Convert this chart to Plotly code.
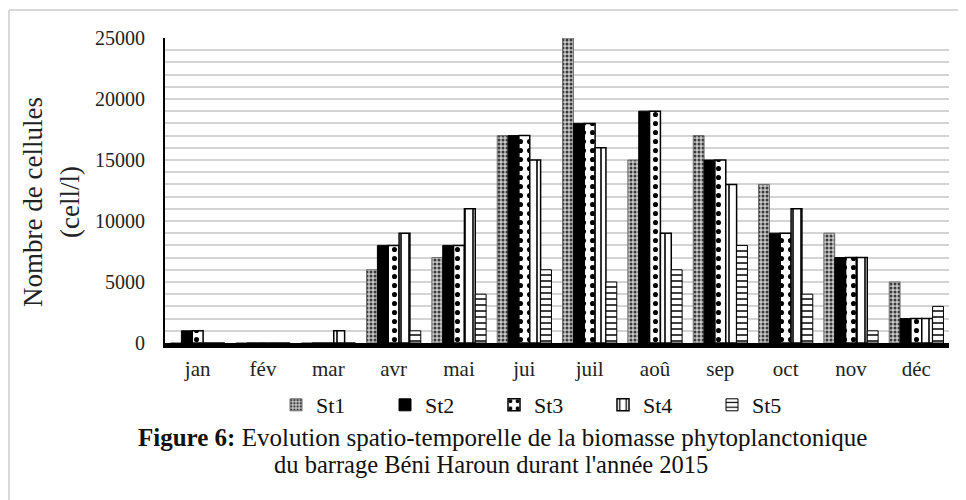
import plotly.graph_objects as go

months = ["jan", "fév", "mar", "avr", "mai", "jui", "juil", "aoû", "sep", "oct", "nov", "déc"]
st1 = [0, 0, 0, 6000, 7000, 17000, 25000, 15000, 17000, 13000, 9000, 5000]
st2 = [1000, 0, 0, 8000, 8000, 17000, 18000, 19000, 15000, 9000, 7000, 2000]
st3 = [1000, 0, 0, 8000, 8000, 17000, 18000, 19000, 15000, 9000, 7000, 2000]
st4 = [0, 0, 1000, 9000, 11000, 15000, 16000, 9000, 13000, 11000, 7000, 2000]
st5 = [0, 0, 0, 1000, 4000, 6000, 5000, 6000, 8000, 4000, 1000, 3000]

# page has an 8px body margin; work in page pixels and convert
OFF = 8
W, H = 966 - OFF, 500 - OFF
L, R, T, B = 165 - OFF, 949 - OFF, 38 - OFF, 343 - OFF


def px_x(px):
    return (px - OFF - L) / (R - L)


def px_y(py):
    return (B - (py - OFF)) / (B - T)


SERIF = "Liberation Serif, Times New Roman, serif"
GRID = "#d4d4d4"

fig = go.Figure()
fig.add_bar(name="St1", x=months, y=st1,
            marker=dict(color="#bdbdbd", line=dict(color="#6b6b6b", width=1),
                        pattern=dict(shape=".", fgcolor="#3a3a3a", bgcolor="#c8c8c8",
                                     size=4, solidity=0.45, fillmode="replace")))
fig.add_bar(name="St2", x=months, y=st2,
            marker=dict(color="black", line=dict(color="black", width=1)))
fig.add_bar(name="St3", x=months, y=st3,
            marker=dict(color="white", line=dict(color="black", width=1.5),
                        pattern=dict(shape=".", fgcolor="black", bgcolor="white",
                                     size=9, solidity=0.25, fillmode="replace")))
fig.add_bar(name="St4", x=months, y=st4,
            marker=dict(color="white", line=dict(color="black", width=1.5),
                        pattern=dict(shape="|", fgcolor="black", bgcolor="white",
                                     size=8, solidity=0.2, fillmode="replace")))
fig.add_bar(name="St5", x=months, y=st5,
            marker=dict(color="white", line=dict(color="black", width=1),
                        pattern=dict(shape="-", fgcolor="black", bgcolor="white",
                                     size=6, solidity=0.25, fillmode="replace")))

fig.update_layout(
    width=W, height=H,
    margin=dict(l=L, r=W - R, t=T, b=H - B, autoexpand=False),
    paper_bgcolor="white", plot_bgcolor="white",
    barmode="group", bargap=0.17, bargroupgap=0.0,
    font=dict(family=SERIF, color="#222222"),
    showlegend=True,
    legend=dict(orientation="h", x=px_x(276), xanchor="left", y=px_y(405), yanchor="middle",
                font=dict(size=22, family=SERIF, color="#111111"),
                entrywidth=64, entrywidthmode="pixels", bgcolor="rgba(0,0,0,0)"),
)
fig.update_xaxes(
    showline=True, linecolor="black", linewidth=5, ticks="",
    tickfont=dict(size=21, family=SERIF, color="#222222"),
    showgrid=False, ticklabelstandoff=3,
)
fig.update_yaxes(
    range=[0, 25000], tick0=0, dtick=5000, tickformat="d",
    showline=True, linecolor="black", linewidth=2, ticks="",
    tickfont=dict(size=20, family=SERIF, color="#222222"),
    showgrid=True, gridcolor=GRID, gridwidth=2,
    minor=dict(tick0=0, dtick=1000, showgrid=True, gridcolor=GRID, gridwidth=2),
    zeroline=False, ticklabelstandoff=14,
)

# y-axis title (two lines)
fig.add_annotation(xref="paper", yref="paper", x=px_x(33), y=px_y(202),
                   text="Nombre de cellules", textangle=-90, showarrow=False,
                   xanchor="center", yanchor="middle",
                   font=dict(size=27, family=SERIF, color="#222222"))
fig.add_annotation(xref="paper", yref="paper", x=px_x(70), y=px_y(202),
                   text="(cell/l)", textangle=-90, showarrow=False,
                   xanchor="center", yanchor="middle",
                   font=dict(size=27, family=SERIF, color="#222222"))

# caption
fig.add_annotation(xref="paper", yref="paper", x=px_x(502), y=px_y(437),
                   text="<b>Figure 6:</b> Evolution spatio-temporelle de la biomasse phytoplanctonique",
                   showarrow=False, xanchor="center", yanchor="middle",
                   font=dict(size=25, family=SERIF, color="#111111"))
fig.add_annotation(xref="paper", yref="paper", x=px_x(491), y=px_y(464),
                   text="du barrage Béni Haroun durant l'année 2015",
                   showarrow=False, xanchor="center", yanchor="middle",
                   font=dict(size=24.5, family=SERIF, color="#111111"))

# outer frame lines (top and left)
fig.add_shape(type="line", xref="paper", yref="paper",
              x0=px_x(9), x1=px_x(966), y0=px_y(10), y1=px_y(10),
              line=dict(color="#d9d9d9", width=2))
fig.add_shape(type="line", xref="paper", yref="paper",
              x0=px_x(9), x1=px_x(9), y0=px_y(10), y1=px_y(500),
              line=dict(color="#d9d9d9", width=2))

fig.write_html("out.html")
